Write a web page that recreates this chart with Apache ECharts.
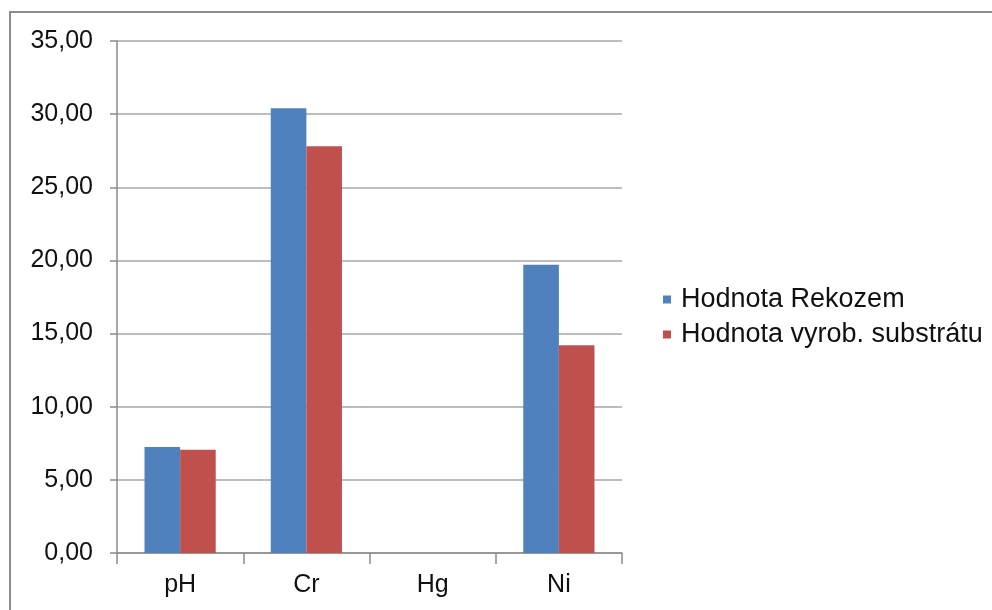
<!DOCTYPE html>
<html>
<head>
<meta charset="utf-8">
<script src="https://cdn.jsdelivr.net/npm/echarts@6/dist/echarts.min.js"></script>
<style>
html,body{margin:0;padding:0;background:#fff;}
#chart{width:992px;height:610px;}
</style>
</head>
<body>
<div id="chart"></div>
<script>
var categories = ['pH', 'Cr', 'Hg', 'Ni'];
var seriesNames = ['Hodnota Rekozem', 'Hodnota vyrob. substrátu'];
var rekozem = [7.25, 30.4, 0, 19.7];
var substrat = [7.05, 27.8, 0, 14.2];
var yTicks = [0, 5, 10, 15, 20, 25, 30, 35];

var chart = echarts.init(document.getElementById('chart'), null, {renderer: 'canvas'});
var font = '"Liberation Sans", Arial, sans-serif';
chart.setOption({
  animation: false,
  backgroundColor: '#fff',
  graphic: [{
    type: 'rect',
    shape: {x: 10, y: 12, width: 1000, height: 620},
    style: {fill: 'none', stroke: '#8c8c8c', lineWidth: 2},
    silent: true
  }],
  grid: {left: 117, right: 370, top: 41, bottom: 57, containLabel: false},
  legend: {
    orient: 'vertical',
    left: 663,
    top: 286,
    padding: 0,
    itemWidth: 8,
    itemHeight: 8,
    itemGap: 8,
    icon: 'rect',
    textStyle: {fontFamily: font, fontSize: 27, color: '#111', padding: [0, 0, 0, 5]},
    data: seriesNames
  },
  xAxis: {
    type: 'category',
    data: categories,
    boundaryGap: true,
    axisLine: {lineStyle: {color: '#8a8a8a', width: 1.5}},
    axisTick: {show: true, length: 11, lineStyle: {color: '#8a8a8a', width: 1.5}},
    axisLabel: {fontFamily: font, fontSize: 25, color: '#111', margin: 20}
  },
  yAxis: {
    type: 'value',
    min: yTicks[0],
    max: yTicks[yTicks.length - 1],
    interval: 5,
    axisLine: {show: true, lineStyle: {color: '#8a8a8a', width: 1.5}},
    axisTick: {show: true, length: 7, lineStyle: {color: '#8a8a8a', width: 1.5}},
    splitLine: {lineStyle: {color: '#a6a6a6', width: 1.5}},
    axisLabel: {
      fontFamily: font, fontSize: 25, color: '#111', margin: 24,
      formatter: function (v) { return v.toFixed(2).replace('.', ','); }
    }
  },
  series: [{
    name: seriesNames[0],
    type: 'bar',
    data: rekozem,
    barGap: '0%',
    barCategoryGap: '43.6%',
    itemStyle: {color: '#4F81BD'}
  }, {
    name: seriesNames[1],
    type: 'bar',
    data: substrat,
    barGap: '0%',
    barCategoryGap: '43.6%',
    itemStyle: {color: '#C0504D'}
  }]
});
</script>
</body>
</html>
